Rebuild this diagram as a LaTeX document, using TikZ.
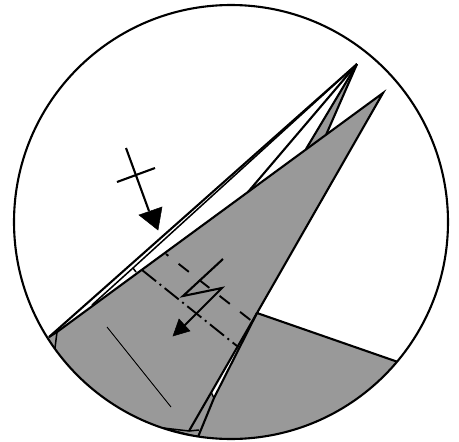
\documentclass[tikz,border=0pt]{standalone}
\definecolor{foldgray}{HTML}{999999}
\tikzset{
  foldline/.style={line width=2.1pt,line join=miter},
  thinfold/.style={line width=1.5pt},
  dashfold/.style={line width=1.9pt,dash pattern=on 13pt off 13pt,dash phase=10pt},
  dashdotfold/.style={line width=1.9pt,dash pattern=on 18pt off 4.5pt on 2pt off 4.5pt},
  arrowstem/.style={line width=2.1pt},
  head/.style={fill=black,draw=black,line width=0.5pt,line join=miter}
}
\begin{document}
\begin{tikzpicture}[x=1pt,y=-1pt]
\useasboundingbox (0,0) rectangle (459,442);
\coordinate (C) at (231,222);
\coordinate (T1) at (357,64);
\coordinate (T2) at (383,93);
\coordinate (K) at (257,313);
\coordinate (R) at (398,362);
\coordinate (LA) at (49,337);
\coordinate (LB) at (57,332);
\coordinate (LC) at (55,348);
\coordinate (BA) at (189,431);
\coordinate (BB) at (198,437);
\coordinate (BC) at (163,428);
\coordinate (BD) at (199,430);
\coordinate (WA) at (211,392);
\coordinate (WB) at (214,398);
\coordinate (WT) at (250,327);
\coordinate (F1) at (306,149);
\coordinate (F2) at (326,135);
\coordinate (E) at (248,192);
\coordinate (N1) at (133,268);
\coordinate (N2) at (136,272);
\begin{scope}
  \clip (C) circle (217);
  % gray paper
  \fill[foldgray] (T2) -- (K) -- (R) -- (470,442) -- (0,442) -- (0,360) -- (LA) -- (LB) -- cycle;
  \fill[foldgray] (T1) -- (F1) -- (F2) -- cycle;
  \fill[white] (WT) -- (WA) -- (WB) -- cycle;
  % fold edges
  \draw[foldline] (R) -- (K) -- (T2) -- (LB) -- (LA);
  \draw[foldline] (T1) -- (LA);
  \draw[thinfold] (T1) -- (N1) -- (92,305);
  \draw[thinfold] (N1) -- (N2);
  \draw[foldline] (T1) -- (E);
  \draw[foldline] (T1) -- (F1);
  \draw[foldline] (T1) -- (F2);
  \draw[thinfold] (LB) -- (LC);
  \draw[foldline] (K) -- (BA);
  \draw[foldline] (K) -- (WB) -- (BB);
  \draw[thinfold] (WA) -- (WB);
  \draw[thinfold] (BC) -- (BA) -- (BD);
  \draw[thinfold] (BC) -- (BB);
\end{scope}
\draw[foldline] (C) circle (217);
% fold marks
\coordinate (DA) at (166,254);
\coordinate (DB) at (253,322);
\coordinate (DC) at (142,270);
\coordinate (DD) at (237,346);
\draw[dashfold] (DA) -- (DB);
\draw[dashdotfold] (DC) -- (DD);
\draw[line width=0.9pt] (107,327) -- (171,407);
% push arrow
\coordinate (P0) at (126,148);
\coordinate (P1) at (149,211);
\draw[arrowstem] (P0) -- (P1);
\draw[arrowstem] (117,182) -- (155,168);
\fill[head] (158,230) -- (139,215) -- (162,207) -- cycle;
% zigzag arrow
\draw[arrowstem,line join=miter] (223,259) -- (183,296) -- (222,288) -- (182,328);
\fill[head] (173,336) -- (179,319) -- (190,331) -- cycle;
\end{tikzpicture}
\end{document}
